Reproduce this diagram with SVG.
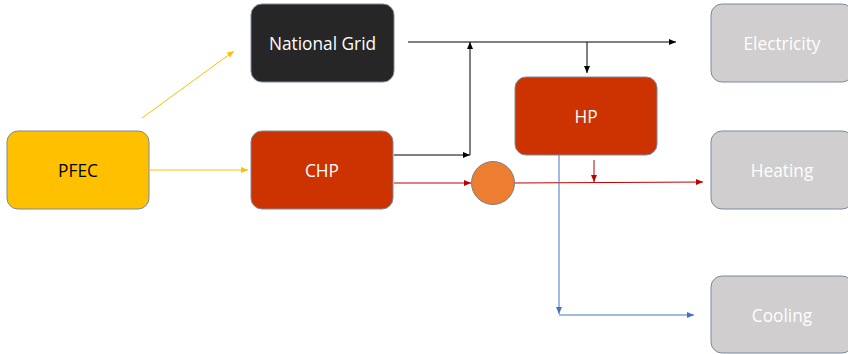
<svg xmlns="http://www.w3.org/2000/svg" width="848" height="354" viewBox="0 0 848 354">
<style>
.box{stroke:#7a8aa0;stroke-width:1}
.lbl{font-family:"Open Sans","Liberation Sans",sans-serif;font-size:17.3px;text-anchor:middle;dominant-baseline:central}
.w{fill:#ffffff}
.k{fill:#000000}
.c{fill:none;stroke-width:1}
</style>
<defs>
<marker id="ay" markerWidth="8" markerHeight="8" refX="7" refY="4" orient="auto" markerUnits="userSpaceOnUse"><path d="M0,1 L7,4 L0,7Z" fill="#FFC000"/></marker>
<marker id="ak" markerWidth="8" markerHeight="8" refX="7" refY="4" orient="auto" markerUnits="userSpaceOnUse"><path d="M0,1 L7,4 L0,7Z" fill="#000"/></marker>
<marker id="ar" markerWidth="8" markerHeight="8" refX="7" refY="4" orient="auto" markerUnits="userSpaceOnUse"><path d="M0,1 L7,4 L0,7Z" fill="#C00000"/></marker>
<marker id="ab" markerWidth="8" markerHeight="8" refX="7" refY="4" orient="auto" markerUnits="userSpaceOnUse"><path d="M0,1 L7,4 L0,7Z" fill="#4472C4"/></marker>
</defs>
<rect width="848" height="354" fill="#fff"/>
<g id="connectors">
<line class="c" x1="142" y1="118" x2="234" y2="51" stroke="#FFC000" marker-end="url(#ay)"/>
<line class="c" x1="150" y1="170" x2="248" y2="170" stroke="#FFC000" marker-end="url(#ay)"/>
<line class="c" x1="408" y1="42" x2="676" y2="42" stroke="#000" marker-end="url(#ak)"/>
<line class="c" x1="394" y1="155" x2="470" y2="155" stroke="#000" marker-end="url(#ak)"/>
<line class="c" x1="470" y1="155" x2="470" y2="42" stroke="#000" marker-end="url(#ak)"/>
<line class="c" x1="587" y1="42" x2="587" y2="73" stroke="#000" marker-end="url(#ak)"/>
<line class="c" x1="394" y1="183" x2="471" y2="183" stroke="#C00000" marker-end="url(#ar)"/>
<line class="c" x1="514" y1="183" x2="703" y2="182" stroke="#C00000" marker-end="url(#ar)"/>
<line class="c" x1="594" y1="160" x2="594" y2="182" stroke="#C00000" marker-end="url(#ar)"/>
<line class="c" x1="559" y1="155" x2="559" y2="314" stroke="#4472C4" marker-end="url(#ab)"/>
<line class="c" x1="559" y1="315" x2="694" y2="315" stroke="#4472C4" marker-end="url(#ab)"/>
</g>
<g id="pfec"><rect class="box" x="7" y="131" width="142" height="78" rx="11" fill="#FFC000"/><text class="lbl k" x="78" y="170">PFEC</text></g>
<g id="national-grid"><rect class="box" x="251" y="4" width="143" height="78" rx="11" fill="#262626"/><text class="lbl w" x="322.5" y="43">National Grid</text></g>
<g id="chp"><rect class="box" x="251" y="131" width="142" height="78" rx="11" fill="#CC3300"/><text class="lbl w" x="322" y="170">CHP</text></g>
<g id="hp"><rect class="box" x="515" y="77" width="142" height="78" rx="11" fill="#CC3300"/><text class="lbl w" x="586" y="116">HP</text></g>
<g id="mixer"><circle cx="493" cy="183" r="21.5" fill="#ED7D31" stroke="#7f7f7f" stroke-width="1"/></g>
<g id="electricity"><rect class="box" x="711" y="4" width="142" height="78" rx="11" fill="#D0CECE"/><text class="lbl w" x="782" y="43">Electricity</text></g>
<g id="heating"><rect class="box" x="711" y="131" width="142" height="78" rx="11" fill="#D0CECE"/><text class="lbl w" x="782" y="170">Heating</text></g>
<g id="cooling"><rect class="box" x="711" y="276" width="142" height="77" rx="11" fill="#D0CECE"/><text class="lbl w" x="782" y="315">Cooling</text></g>
</svg>
